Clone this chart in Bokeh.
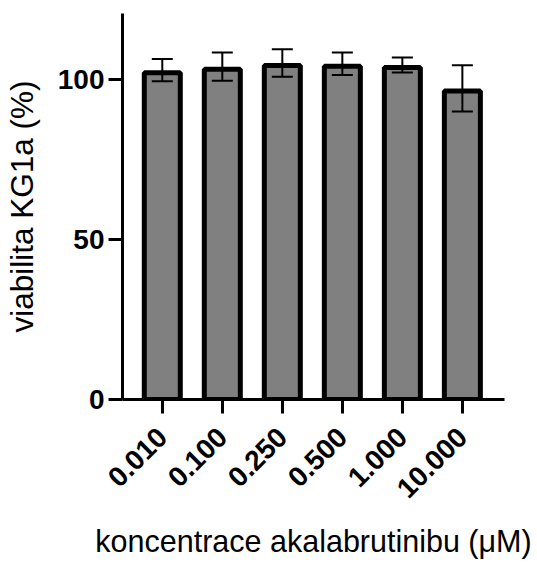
import math
from bokeh.plotting import figure
from bokeh.models import (ColumnDataSource, Range1d, FixedTicker, Whisker, TeeHead)
from bokeh.transform import dodge
from bokeh.embed import file_html
from bokeh.resources import INLINE

# ---- data ----
concentrations = ["0.010", "0.100", "0.250", "0.500", "1.000", "10.000"]
viability = [102.9, 104.0, 105.1, 104.9, 104.5, 97.2]
sd = [3.5, 4.4, 4.3, 3.5, 2.35, 7.25]
y_ticks = [0, 50, 100]

xpos = list(range(len(concentrations)))
src = ColumnDataSource(dict(
    x=xpos,
    v=viability,
    upper=[v + s for v, s in zip(viability, sd)],
    lower=[v - s for v, s in zip(viability, sd)],
))

FONT = "Liberation Sans"

p = figure(width=537, height=563,
           x_range=Range1d(-0.663, 5.702), y_range=Range1d(0, 120.6),
           output_backend="svg", toolbar_location=None,
           min_border_left=120, min_border_right=33,
           min_border_top=13, min_border_bottom=164)

p.outline_line_color = None
p.xgrid.grid_line_color = None
p.ygrid.grid_line_color = None
p.background_fill_color = "white"
p.border_fill_color = "white"

# bars (outline drawn inside the value so its outer edge sits on the value)
p.vbar(x="x", top=dodge("v", -0.78), bottom=0, width=0.6, source=src,
       fill_color="#808080", line_color="black", line_width=5)

# error bars
w = Whisker(base="x", upper="upper", lower="lower", source=src,
            level="annotation",
            line_color="black", line_width=2,
            upper_head=TeeHead(size=21, line_width=2, line_color="black"),
            lower_head=TeeHead(size=21, line_width=2, line_color="black"))
p.add_layout(w)

# x axis
xa = p.xaxis[0]
xa.ticker = FixedTicker(ticks=xpos)
xa.major_label_overrides = {i: c for i, c in zip(xpos, concentrations)}
xa.major_label_orientation = math.pi / 4
xa.major_label_text_font = FONT
xa.major_label_text_font_style = "bold"
xa.major_label_text_font_size = "28px"
xa.major_label_text_color = "black"
xa.major_label_standoff = 19
xa.axis_line_width = 3
xa.axis_line_color = "black"
xa.major_tick_line_width = 3
xa.major_tick_line_color = "black"
xa.major_tick_in = 0
xa.major_tick_out = 14
xa.minor_tick_line_color = None
xa.axis_label = "koncentrace akalabrutinibu (\u03bcM)"
xa.axis_label_text_font = FONT
xa.axis_label_text_font_style = "normal"
xa.axis_label_text_font_size = "30.5px"
xa.axis_label_text_color = "black"
xa.axis_label_standoff = 15

# y axis
ya = p.yaxis[0]
ya.ticker = FixedTicker(ticks=y_ticks)
ya.major_label_text_font = FONT
ya.major_label_text_font_style = "bold"
ya.major_label_text_font_size = "28px"
ya.major_label_text_color = "black"
ya.major_label_standoff = 4
ya.axis_line_width = 3
ya.axis_line_color = "black"
ya.major_tick_line_width = 3
ya.major_tick_line_color = "black"
ya.major_tick_in = 0
ya.major_tick_out = 14
ya.minor_tick_line_color = None
ya.axis_label = "viabilita KG1a (%)"
ya.axis_label_text_font = FONT
ya.axis_label_text_font_style = "normal"
ya.axis_label_text_font_size = "31.5px"
ya.axis_label_text_color = "black"
ya.axis_label_standoff = 15

open("out.html", "w").write(file_html(p, INLINE))
